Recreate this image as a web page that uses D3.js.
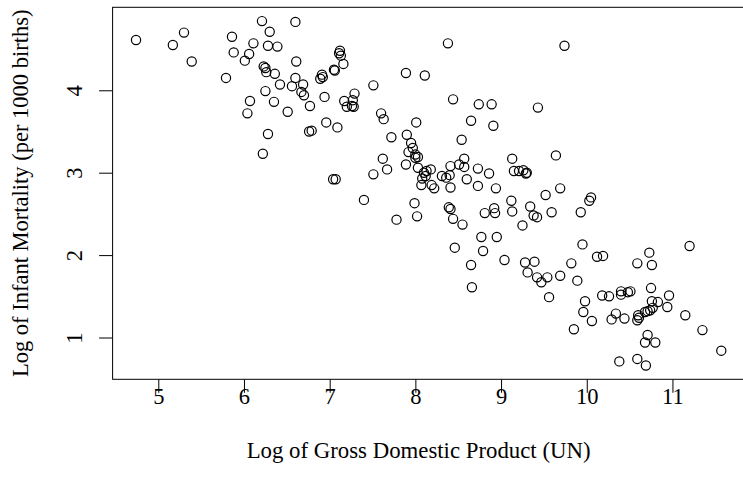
<!DOCTYPE html>
<html>
<head>
<meta charset="utf-8">
<script src="https://cdn.jsdelivr.net/npm/d3@7"></script>
<style>
  body { margin: 0; background: #fff; }
  svg { display: block; }
  text { font-family: "Liberation Serif", "Times New Roman", serif; fill: #000; }
</style>
</head>
<body>
<svg id="chart" width="743" height="490"></svg>
<script>
// Log of GDP per capita (UN) for each country
const logGDP = [
  4.74, 5.17, 5.30, 5.39, 5.79, 5.86, 5.88, 6.01, 6.06, 6.11,
  6.07, 6.04, 6.21, 6.30, 6.28, 6.39, 6.60, 6.61, 6.23, 6.25,
  6.26, 6.36, 6.42, 6.56, 6.60, 6.69, 6.67, 6.70, 6.25, 6.35,
  6.51, 6.77, 6.76, 6.79, 6.28, 6.22, 7.12, 7.11, 7.13, 7.16,
  7.05, 7.06, 6.91, 6.89, 6.92, 6.94, 7.17, 7.29, 7.27, 7.20,
  7.26, 7.28, 7.51, 6.96, 7.09, 7.60, 7.63, 7.72, 7.89, 8.11,
  8.38, 8.44, 8.74, 8.89, 8.65, 8.91, 8.01, 7.90, 7.95, 7.97,
  7.92, 8.00, 8.03, 8.00, 8.54, 7.62, 7.67, 7.51, 7.89, 8.03,
  8.13, 8.18, 8.10, 8.12, 8.08, 8.07, 8.19, 8.31, 8.36, 8.40,
  8.41, 8.51, 8.57, 8.57, 8.73, 8.86, 8.60, 8.41, 8.73, 8.94,
  7.04, 7.07, 8.22, 9.74, 9.43, 9.64, 9.13, 9.15, 9.21, 9.26,
  9.29, 9.30, 9.69, 7.40, 7.99, 8.02, 7.78, 8.39, 8.41, 8.44,
  8.55, 8.81, 8.92, 8.93, 8.77, 8.95, 8.46, 8.79, 8.65, 9.04,
  8.66, 9.12, 9.13, 9.34, 9.38, 9.42, 9.52, 9.59, 9.25, 9.93,
  10.03, 10.05, 9.95, 10.12, 10.19, 10.73, 10.59, 10.76, 11.20, 9.28,
  9.39, 9.82, 9.31, 9.42, 9.47, 9.54, 9.69, 9.89, 9.56, 9.98,
  9.96, 10.06, 9.85, 10.18, 10.26, 10.40, 10.40, 10.48, 10.51, 10.75,
  10.96, 10.94, 10.76, 10.83, 10.77, 10.74, 10.71, 10.68, 10.60, 10.59,
  10.61, 10.34, 10.29, 10.44, 11.15, 11.35, 10.71, 10.68, 10.80, 11.57,
  10.38, 10.59, 10.69
];

// Log of infant mortality (per 1000 births), same country order
const logInfantMortality = [
  4.61, 4.55, 4.70, 4.35, 4.15, 4.65, 4.46, 4.36, 4.44, 4.57,
  3.87, 3.72, 4.84, 4.71, 4.54, 4.53, 4.83, 4.35, 4.29, 4.27,
  4.22, 4.20, 4.07, 4.05, 4.15, 4.07, 3.98, 3.94, 3.99, 3.86,
  3.74, 3.81, 3.50, 3.51, 3.47, 3.23, 4.48, 4.45, 4.42, 4.32,
  4.25, 4.24, 4.19, 4.14, 4.16, 3.92, 3.87, 3.96, 3.88, 3.80,
  3.81, 3.80, 4.06, 3.61, 3.55, 3.72, 3.65, 3.43, 4.21, 4.18,
  4.57, 3.89, 3.83, 3.83, 3.63, 3.57, 3.61, 3.46, 3.36, 3.30,
  3.25, 3.22, 3.19, 3.18, 3.40, 3.17, 3.04, 2.98, 3.10, 3.06,
  3.02, 3.04, 3.00, 2.96, 2.93, 2.85, 2.85, 2.96, 2.94, 2.97,
  3.08, 3.10, 3.17, 3.07, 3.05, 2.99, 2.92, 2.82, 2.84, 2.81,
  2.92, 2.92, 2.81, 4.54, 3.79, 3.21, 3.17, 3.02, 3.02, 3.03,
  2.99, 3.00, 2.81, 2.67, 2.63, 2.47, 2.43, 2.58, 2.56, 2.44,
  2.37, 2.51, 2.57, 2.51, 2.22, 2.22, 2.09, 2.05, 1.88, 1.94,
  1.61, 2.66, 2.53, 2.59, 2.48, 2.46, 2.73, 2.52, 2.36, 2.52,
  2.66, 2.70, 2.13, 1.98, 1.99, 2.03, 1.90, 1.88, 2.11, 1.91,
  1.92, 1.90, 1.79, 1.73, 1.67, 1.73, 1.75, 1.69, 1.49, 1.44,
  1.31, 1.20, 1.10, 1.51, 1.50, 1.56, 1.52, 1.55, 1.56, 1.60,
  1.51, 1.37, 1.44, 1.43, 1.36, 1.33, 1.32, 1.31, 1.27, 1.21,
  1.24, 1.29, 1.22, 1.23, 1.27, 1.09, 1.03, 0.94, 0.94, 0.84,
  0.71, 0.74, 0.66
];

const xTickValues = [5, 6, 7, 8, 9, 10, 11];
const yTickValues = [1, 2, 3, 4];
const xTitle = "Log of Gross Domestic Product (UN)";
const yTitle = "Log of Infant Mortality (per 1000 births)";

const points = logGDP.map((g, i) => ({ x: g, y: logInfantMortality[i] }));

const svg = d3.select("#chart");
const fontSize = 22.5;
const lineH = fontSize * 1.2;

// plot region (the right edge of the frame runs just past the page)
const plotLeft = 112.6, plotTop = 7.3, plotRight = 744.7, plotBottom = 379.3;

// pad the data range by 4% on each side
function padded(vals) {
  const [lo, hi] = d3.extent(vals);
  const d = (hi - lo) * 0.04;
  return [lo - d, hi + d];
}

const x = d3.scaleLinear().domain(padded(logGDP)).range([plotLeft, plotRight]);
const y = d3.scaleLinear().domain(padded(logInfantMortality)).range([plotBottom, plotTop]);

// points (open circles)
svg.append("g")
  .selectAll("circle")
  .data(points)
  .join("circle")
  .attr("cx", d => x(d.x))
  .attr("cy", d => y(d.y))
  .attr("r", 4.6)
  .attr("fill", "none")
  .attr("stroke", "#000")
  .attr("stroke-width", 1.2);

// x axis
const gx = svg.append("g")
  .attr("transform", `translate(0,${plotBottom})`)
  .call(d3.axisBottom(x).tickValues(xTickValues).tickSize(lineH * 0.5).tickFormat(d3.format("d")));
gx.select(".domain").remove();
gx.selectAll(".tick line").attr("stroke", "#000").attr("stroke-width", 1);
gx.selectAll(".tick text")
  .attr("y", 24.5)
  .attr("dy", null)
  .style("font-size", fontSize + "px")
  .style("font-family", '"Liberation Serif", serif');

// y axis with labels parallel to the axis
const gy = svg.append("g")
  .attr("transform", `translate(${plotLeft},0)`)
  .call(d3.axisLeft(y).tickValues(yTickValues).tickSize(lineH * 0.5).tickFormat(d3.format("d")));
gy.select(".domain").remove();
gy.selectAll(".tick line").attr("stroke", "#000").attr("stroke-width", 1);
gy.selectAll(".tick text")
  .attr("x", null)
  .attr("dy", null)
  .attr("text-anchor", "middle")
  .attr("transform", "translate(-31,0) rotate(-90)")
  .style("font-size", fontSize + "px")
  .style("font-family", '"Liberation Serif", serif');

// frame
svg.append("rect")
  .attr("x", plotLeft).attr("y", plotTop)
  .attr("width", plotRight - plotLeft).attr("height", plotBottom - plotTop)
  .attr("fill", "none")
  .attr("stroke", "#000")
  .attr("stroke-width", 1);

// axis titles
svg.append("text")
  .attr("x", plotLeft + 306)
  .attr("y", plotBottom + 24.5 + 2 * lineH)
  .attr("text-anchor", "middle")
  .style("font-size", "22.8px")
  .text(xTitle);

svg.append("text")
  .attr("transform", `translate(${plotLeft - 31 - 2 * lineH},${(plotTop + plotBottom) / 2}) rotate(-90)`)
  .attr("text-anchor", "middle")
  .style("font-size", fontSize + "px")
  .text(yTitle);
</script>
</body>
</html>
